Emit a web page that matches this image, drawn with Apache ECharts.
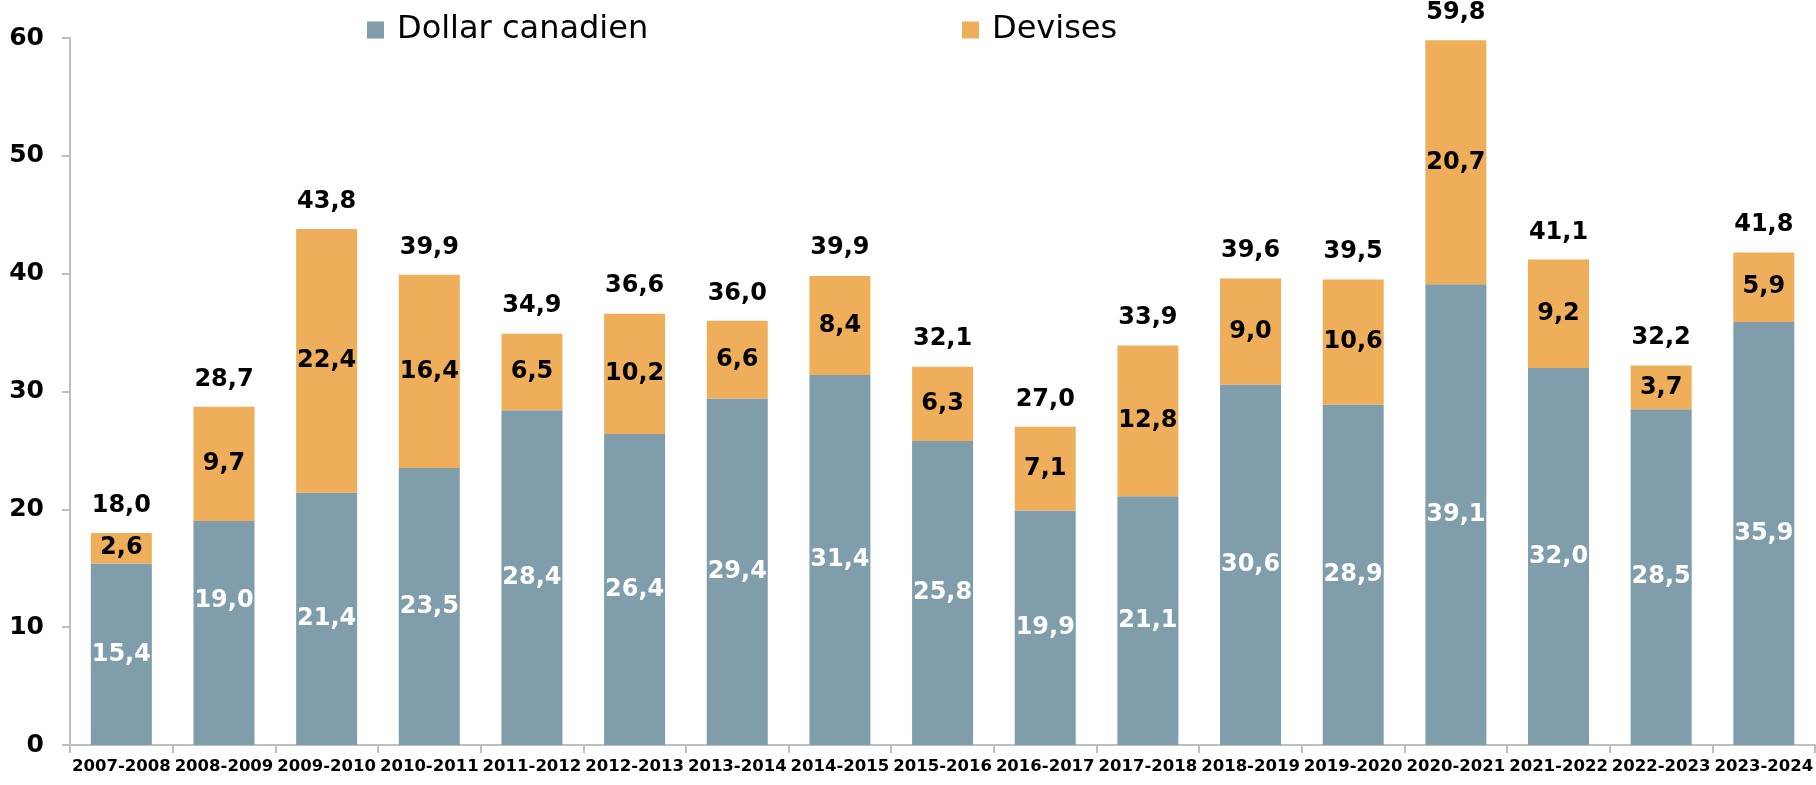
<!DOCTYPE html>
<html>
<head>
<meta charset="utf-8">
<script src="https://cdn.jsdelivr.net/npm/echarts@6/dist/echarts.min.js"></script>
<style>
  html, body { margin: 0; padding: 0; background: #fff; }
  #chart { width: 1816px; height: 785px; }
</style>
</head>
<body>
<div id="chart"></div>
<script>
// années budgétaires
var annees = ['2007-2008', '2008-2009', '2009-2010', '2010-2011', '2011-2012', '2012-2013',
  '2013-2014', '2014-2015', '2015-2016', '2016-2017', '2017-2018', '2018-2019',
  '2019-2020', '2020-2021', '2021-2022', '2022-2023', '2023-2024'];
var dollarCanadien = [15.4, 19.0, 21.4, 23.5, 28.4, 26.4, 29.4, 31.4, 25.8, 19.9, 21.1, 30.6, 28.9, 39.1, 32.0, 28.5, 35.9];
var devises = [2.6, 9.7, 22.4, 16.4, 6.5, 10.2, 6.6, 8.4, 6.3, 7.1, 12.8, 9.0, 10.6, 20.7, 9.2, 3.7, 5.9];
var totaux = [18.0, 28.7, 43.8, 39.9, 34.9, 36.6, 36.0, 39.9, 32.1, 27.0, 33.9, 39.6, 39.5, 59.8, 41.1, 32.2, 41.8];
var yTicks = [0, 10, 20, 30, 40, 50, 60];

var police = '"DejaVu Sans", "Liberation Sans", Arial, sans-serif';

// virgule décimale
function fr(v) {
  return Number(v).toFixed(1).replace('.', ',');
}

var myChart = echarts.init(document.getElementById('chart'));

// l'étiquette de 2008-2009 est un peu plus haute dans l'original
var dataDollar = dollarCanadien.map(function (v, i) {
  if (i == 1) {
    return { value: v, label: { offset: [0, -32] } };
  }
  return v;
});

var legendeTexte = { fontSize: 32, color: '#000', fontFamily: police, padding: [0, 0, 0, 8] };

var option = {
  animation: false,
  textStyle: { fontFamily: police },
  grid: { left: 70, top: 38, width: 1751, height: 707 },
  legend: [
    {
      data: ['Dollar canadien'],
      left: 362, top: 9,
      itemWidth: 17, itemHeight: 17, icon: 'rect',
      textStyle: legendeTexte
    },
    {
      data: ['Devises'],
      left: 957, top: 9,
      itemWidth: 17, itemHeight: 17, icon: 'rect',
      textStyle: legendeTexte
    }
  ],
  xAxis: {
    type: 'category',
    data: annees,
    axisLine: { lineStyle: { color: '#BFBFBF', width: 2 } },
    axisTick: { show: true, length: 8, lineStyle: { color: '#BFBFBF', width: 2 } },
    axisLabel: { fontSize: 16.5, fontWeight: 'bold', color: '#000', margin: 13, interval: 0 }
  },
  yAxis: {
    type: 'value',
    min: yTicks[0],
    max: yTicks[yTicks.length - 1],
    interval: 10,
    splitLine: { show: false },
    axisLine: { show: true, lineStyle: { color: '#BFBFBF', width: 2 } },
    axisTick: { show: true, length: 8, lineStyle: { color: '#BFBFBF', width: 2 } },
    axisLabel: { fontSize: 25, fontWeight: 'bold', color: '#000', margin: 26 }
  },
  series: [
    {
      name: 'Dollar canadien',
      type: 'bar',
      stack: 'total',
      barWidth: 61,
      data: dataDollar,
      itemStyle: { color: '#7F9DAB' },
      label: {
        show: true, position: 'inside', color: '#fff', fontSize: 24, fontWeight: 'bold',
        formatter: function (p) { return fr(p.value); }
      }
    },
    {
      name: 'Devises',
      type: 'bar',
      stack: 'total',
      barWidth: 61,
      data: devises,
      itemStyle: { color: '#EEAE5A' },
      label: {
        show: true, position: 'inside', color: '#000', fontSize: 24, fontWeight: 'bold',
        formatter: function (p) { return fr(p.value); }
      }
    },
    {
      // totaux au-dessus des barres
      name: 'Total',
      type: 'line',
      data: totaux,
      symbol: 'circle',
      symbolSize: 1,
      showSymbol: true,
      itemStyle: { color: 'rgba(0,0,0,0)' },
      lineStyle: { opacity: 0 },
      silent: true,
      z: 5,
      label: {
        show: true, position: 'top', distance: 15, color: '#000', fontSize: 24, fontWeight: 'bold',
        formatter: function (p) { return fr(p.value); }
      }
    }
  ]
};

myChart.setOption(option);
</script>
</body>
</html>
